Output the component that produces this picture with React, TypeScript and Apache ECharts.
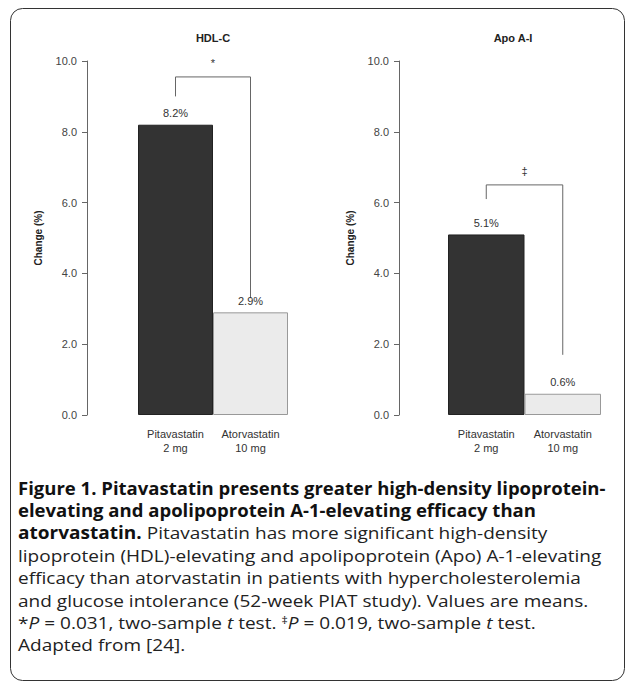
import React, { useEffect, useRef } from 'react';
import * as echarts from 'echarts';

const categories = ['Pitavastatin\n2 mg', 'Atorvastatin\n10 mg'];
const hdlValues = [8.2, 2.9];
const apoValues = [5.1, 0.6];
const panelTitles = ['HDL-C', 'Apo A-I'];
const sigMarks = ['*', '‡'];
const yTicks = [0, 2, 4, 6, 8, 10];

const captionLines: { bold?: string; text?: string; rich?: string }[] = [
  { bold: 'Figure 1. Pitavastatin presents greater high-density lipoprotein-' },
  { bold: 'elevating and apolipoprotein A-1-elevating efficacy than' },
  { bold: 'atorvastatin.', text: ' Pitavastatin has more significant high-density' },
  { text: 'lipoprotein (HDL)-elevating and apolipoprotein (Apo) A-1-elevating' },
  { text: 'efficacy than atorvastatin in patients with hypercholesterolemia' },
  { text: 'and glucose intolerance (52-week PIAT study). Values are means.' },
  { rich: '{n|*}{i|P}{n| = 0.031, two-sample }{i|t}{n| test. }{s|‡}{i|P}{n| = 0.019, two-sample }{i|t}{n| test.}' },
  { text: 'Adapted from [24].' },
];

const FONT = 'Liberation Sans, Arial, sans-serif';
const CAP_FONT = 'Open Sans, Noto Sans, sans-serif';

const App: React.FC = () => {
  const chartRef = useRef<HTMLDivElement>(null);

  useEffect(() => {
    if (!chartRef.current) return;
    const chart = echarts.init(chartRef.current, undefined, { renderer: 'svg' });
    const grids = [
      { left: 138, width: 150, top: 61, height: 354 },
      { left: 448, width: 153, top: 61, height: 354 },
    ];
    const datasets = [hdlValues, apoValues];

    chart.setOption({
      animation: false,
      backgroundColor: '#fff',
      title: panelTitles.map((t, i) => ({
        text: t,
        left: i === 0 ? 208 : 508,
        top: 27,
        textAlign: 'center',
        textStyle: { fontFamily: FONT, fontSize: 11, fontWeight: 'bold', color: '#222' },
      })),
      grid: grids,
      xAxis: grids.map((_, i) => ({
        type: 'category',
        gridIndex: i,
        data: categories,
        axisLine: { show: false },
        axisTick: { show: false },
        axisLabel: { interval: 0, fontFamily: FONT, fontSize: 11, color: '#333', lineHeight: 14, margin: 12 },
      })),
      yAxis: grids.map((_, i) => ({
        type: 'value',
        gridIndex: i,
        min: 0,
        max: 10,
        interval: 2,
        offset: i === 0 ? 51 : 49,
        name: 'Change (%)',
        nameLocation: 'middle',
        nameGap: 44,
        nameTextStyle: { fontFamily: FONT, fontSize: 10, fontWeight: 'bold', color: '#222' },
        axisLine: { show: true, lineStyle: { color: '#666', width: 1 } },
        axisTick: { show: true, length: 5, lineStyle: { color: '#666' } },
        splitLine: { show: false },
        axisLabel: {
          fontFamily: FONT,
          fontSize: 11,
          color: '#444',
          margin: 10,
          formatter: (v: number) => (yTicks.includes(v) ? v.toFixed(1) : ''),
        },
      })),
      series: datasets.map((vals, i) => ({
        type: 'bar',
        xAxisIndex: i,
        yAxisIndex: i,
        barCategoryGap: 0,
        data: vals.map((v, j) => ({
          value: v,
          itemStyle: j === 0
            ? { color: '#333', borderColor: '#222', borderWidth: 1 }
            : { color: '#ebebeb', borderColor: '#999', borderWidth: 1 },
        })),
        label: {
          show: true,
          position: 'top',
          distance: 6,
          fontFamily: FONT,
          fontSize: 11,
          color: '#333',
          formatter: (p: any) => `${p.value}%`,
        },
      })),
    });

    // significance brackets: [left leg bottom, top, right leg bottom, mark]
    const brackets = [
      [9.0, 9.55, 3.3, 9.95],
      [6.1, 6.5, 1.7, 6.9],
    ];
    const graphic: any[] = [
      {
        type: 'rect',
        shape: { x: 10.5, y: 8.5, width: 614, height: 672, r: 12 },
        style: { fill: 'none', stroke: '#333', lineWidth: 1 },
      },
    ];
    brackets.forEach((b, i) => {
      const p = (c: number, v: number) =>
        chart.convertToPixel({ xAxisIndex: i, yAxisIndex: i }, [c, v]) as number[];
      const a = p(0, b[0]);
      const t1 = p(0, b[1]);
      const t2 = p(1, b[1]);
      const d = p(1, b[2]);
      const my = p(0, b[3])[1];
      graphic.push({
        type: 'polyline',
        shape: { points: [a, t1, t2, d] },
        style: { fill: 'none', stroke: '#666', lineWidth: 1 },
      });
      graphic.push({
        type: 'text',
        x: (t1[0] + t2[0]) / 2,
        y: my,
        style: { text: sigMarks[i], fontFamily: FONT, fontSize: 11, fill: '#333', align: 'center', verticalAlign: 'middle' },
      });
    });

    captionLines.forEach((l, k) => {
      let text = '';
      if (l.rich) text = l.rich;
      else text = (l.bold ? `{b|${l.bold}}` : '') + (l.text ? `{n|${l.text}}` : '');
      graphic.push({
        type: 'text',
        x: 18,
        y: 488 + k * 22.4,
        scaleX: l.bold && !l.text ? 1.09 : 1.12,
        style: {
          text,
          verticalAlign: 'middle',
          rich: {
            b: { fontFamily: CAP_FONT, fontSize: 17, fontWeight: 'bold', fill: '#111' },
            n: { fontFamily: CAP_FONT, fontSize: 17, fill: '#222' },
            i: { fontFamily: CAP_FONT, fontSize: 17, fontStyle: 'italic', fill: '#222' },
            s: { fontFamily: CAP_FONT, fontSize: 11, fill: '#222', verticalAlign: 'top', padding: [0, 0, 6, 0] },
          },
        },
      });
    });

    chart.setOption({ graphic });

    return () => {
      chart.dispose();
    };
  }, []);

  return (
    <div
      ref={chartRef}
      style={{ position: 'fixed', left: 0, top: 0, width: '631px', height: '685px' }}
    ></div>
  );
};

export default App;
